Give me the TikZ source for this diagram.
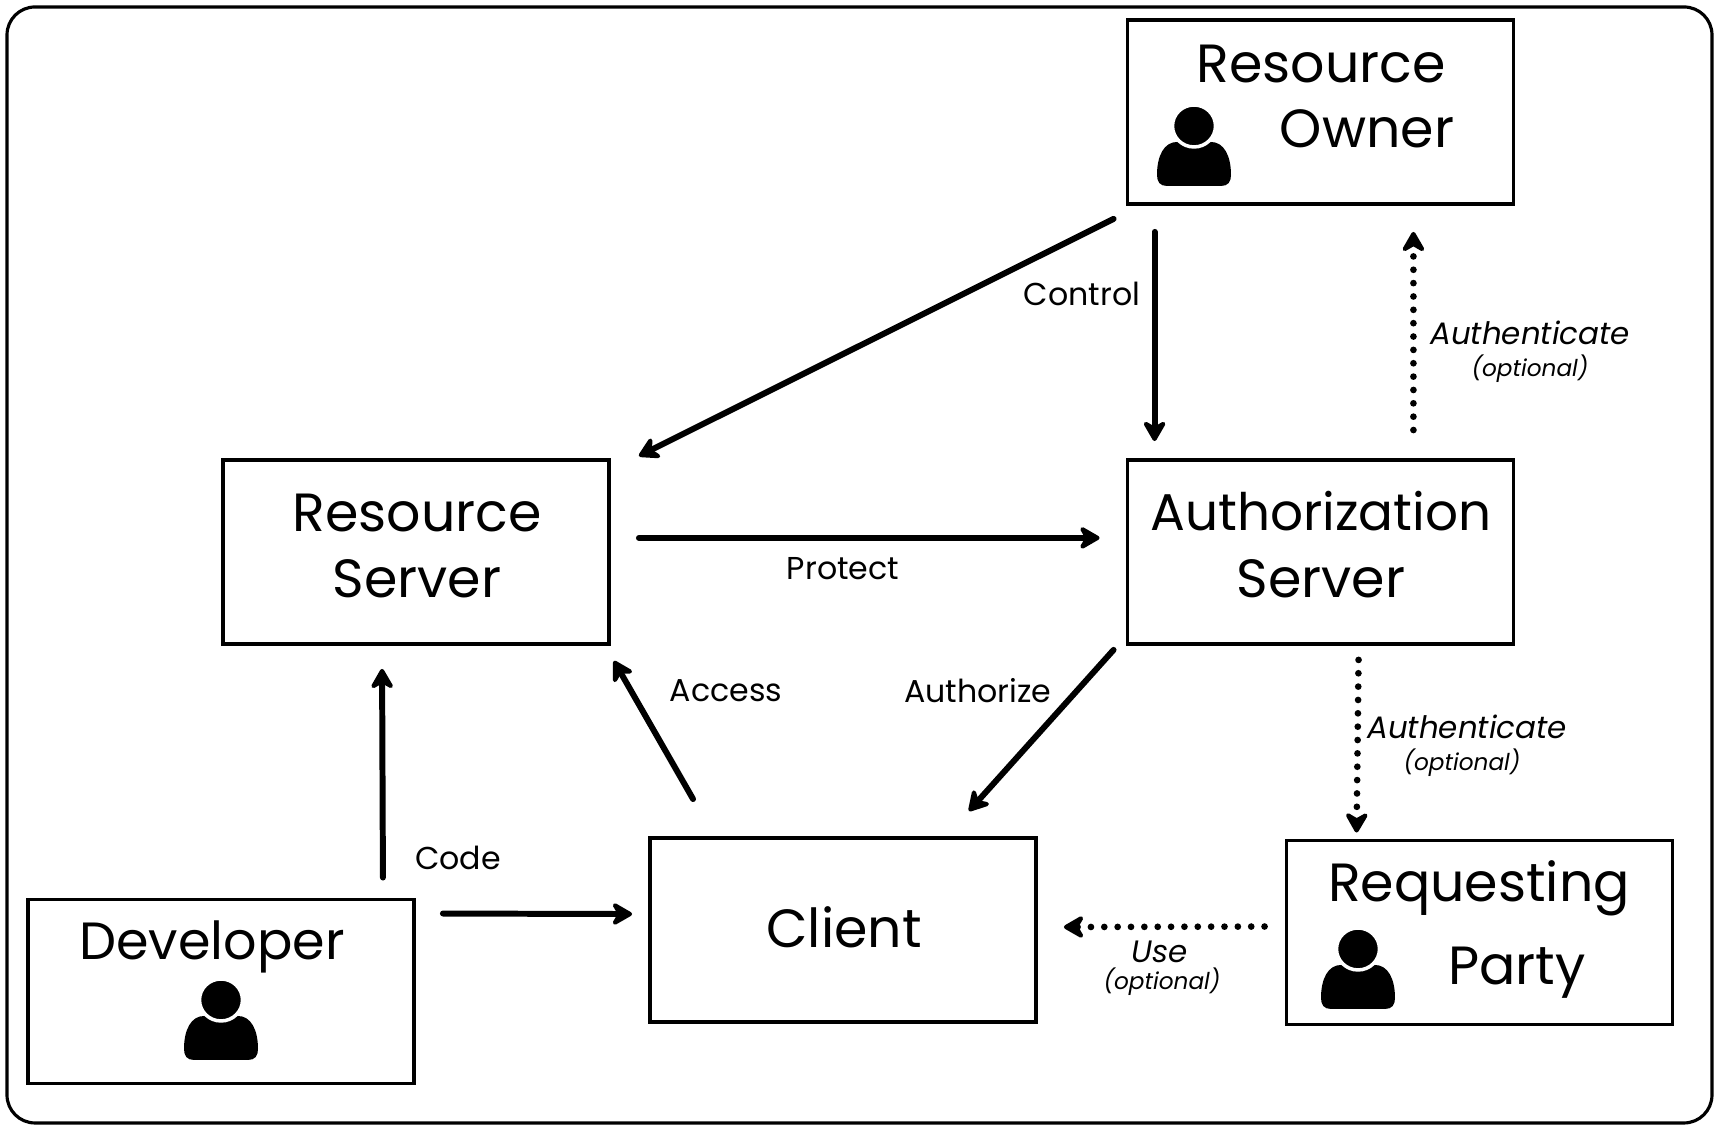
\documentclass[tikz,border=0pt]{standalone}
\usepackage{fontspec}
\setmainfont{Poppins}
\usetikzlibrary{calc,arrows.meta}
\tikzset{
  box/.style={draw=black,fill=white,line width=1.1pt,minimum width=3.86cm,minimum height=1.84cm,inner sep=0pt},
  big/.style={font=\fontsize{15.3}{18}\selectfont,inner sep=0pt},
  lab/.style={font=\fontsize{9}{11}\selectfont,inner sep=0pt},
  opt/.style={font=\fontsize{8.8}{11}\itshape\selectfont,inner sep=0pt},
  optsmall/.style={font=\fontsize{6.6}{8}\itshape\selectfont,inner sep=0pt},
  arr/.style={-{Stealth[length=7pt,width=8pt,round]},line width=1.7pt,line cap=round},
  arrdot/.style={arr,line width=1.9pt,dash pattern=on 0pt off 3.8pt},
  person/.pic={
    \fill[black] (-0.27,0) .. controls (-0.34,0) and (-0.37,0.04) .. (-0.37,0.11)
      .. controls (-0.37,0.3) and (-0.3,0.44) .. (-0.17,0.44) -- (0.17,0.44)
      .. controls (0.3,0.44) and (0.37,0.3) .. (0.37,0.11)
      .. controls (0.37,0.04) and (0.34,0) .. (0.27,0) -- cycle;
    \fill[black,draw=white,line width=1pt] (0,0.6) ellipse (0.215 and 0.21);
  },
}
\begin{document}
\begin{tikzpicture}
    \useasboundingbox (0,0) rectangle (17.19,11.30);
    % outer frame
    \draw[black,line width=0.9pt,rounded corners=0.28cm] (0.07,0.07) rectangle (17.12,11.23);
    % boxes
    \node[box] (owner) at (13.205,10.18) {};
    \node[box] (authserver) at (13.205,5.78) {};
    \node[box] (resserver) at (4.16,5.78) {};
    \node[box] (client) at (8.43,2.00) {};
    \node[box] (party) at (14.795,1.975) {};
    \node[box] (developer) at (2.21,1.385) {};
    % box texts
    \node[big] (ownera) at (13.21,10.66) {Resource};
    \node[big] (ownerb) at (13.67,10.01) {Owner};
    \node[big] (resa) at (4.17,6.17) {Resource};
    \node[big] (resb) at (4.17,5.51) {Server};
    \node[big,font=\fontsize{14.7}{18}\selectfont] (autha) at (13.21,6.19) {Authorization};
    \node[big] (authb) at (13.21,5.51) {Server};
    \node[big] (clienttext) at (8.44,2.03) {Client};
    \node[big] (partya) at (14.79,2.42) {Requesting};
    \node[big] (partyb) at (15.17,1.57) {Party};
    \node[big,font=\fontsize{14.9}{18}\selectfont] (devtext) at (2.12,1.83) {Developer};
    % persons
    \pic at (11.94,9.44) {person};
    \pic at (13.58,1.21) {person};
    \pic at (2.21,0.70) {person};
    % arrows
    \draw[arr] ([shift={(-0.12,-0.13)}]owner.south west) -- ([shift={(0.28,0.02)}]resserver.north east);
    \draw[arr] ([shift={(0.29,-0.26)}]owner.south west) -- ([shift={(0.29,0.17)}]authserver.north west);
    \draw[arrdot] ([shift={(-1.02,0.28)}]authserver.north east) -- ([shift={(-1.02,-0.26)}]owner.south east);
    \draw[arr] ([shift={(0.28,1.08)}]resserver.south east) -- ([shift={(-0.26,1.08)}]authserver.south west);
    \draw[arr] ([shift={(-0.12,-0.04)}]authserver.south west) -- ([shift={(-0.69,0.25)}]client.north east);
    \draw[arrdot] ([shift={(2.33,-0.14)}]authserver.south west) -- ([shift={(0.72,0.06)}]party.north west);
    \draw[arr] ([shift={(0.45,0.37)}]client.north west) -- ([shift={(0.03,-0.15)}]resserver.south east);
    \draw[arr] ([shift={(-0.33,0.20)}]developer.north east) -- ([shift={(1.61,-0.23)}]resserver.south west);
    \draw[arr] ([shift={(0.27,-0.16)}]developer.north east) -- ([shift={(-0.16,-0.78)}]client.north west);
    \draw[arrdot] ([shift={(-0.20,-0.88)}]party.north west) -- ([shift={(0.26,-0.91)}]client.north east);
    % labels
    \node[lab] (control) at (10.82,8.36) {Control};
    \node[lab] (protect) at (8.43,5.61) {Protect};
    \node[lab] (access) at (7.26,4.39) {Access};
    \node[lab] (authorize) at (9.78,4.39) {Authorize};
    \node[lab] (code) at (4.58,2.72) {Code};
    \node[opt] (authup) at (15.30,7.97) {Authenticate};
    \node[optsmall] (optup) at (15.30,7.61) {(optional)};
    \node[opt] (authdown) at (14.67,4.03) {Authenticate};
    \node[optsmall] (optdown) at (14.62,3.67) {(optional)};
    \node[opt] (use) at (11.60,1.78) {Use};
    \node[optsmall] (optuse) at (11.62,1.48) {(optional)};
\end{tikzpicture}
\end{document}
